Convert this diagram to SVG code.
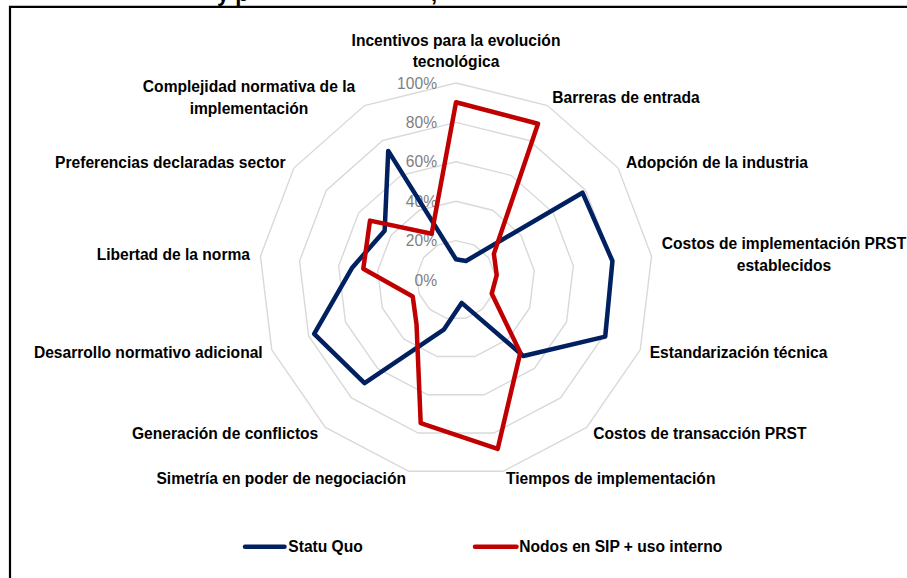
<svg xmlns="http://www.w3.org/2000/svg" width="907" height="578" viewBox="0 0 907 578">
  <style>
    .bg { fill: #ffffff; }
    .frame { fill: none; stroke: #000000; stroke-width: 2.2; }
    .grid { fill: none; stroke: #d9d9d9; stroke-width: 1.4; }
    .tick { font-family: "Liberation Sans", Arial, sans-serif; font-size: 15.6px; fill: #808080; text-anchor: end; }
    .lbl { font-family: "Liberation Sans", Arial, sans-serif; font-size: 15.6px; font-weight: bold; fill: #000000; }
    .title { font-family: "Liberation Sans", Arial, sans-serif; font-size: 22px; font-weight: bold; fill: #000000; }
    .mid { text-anchor: middle; }
    .end { text-anchor: end; }
    .series { fill: none; stroke-width: 4.5; stroke-linejoin: round; stroke-linecap: round; }
    .blue { stroke: #002060; }
    .red { stroke: #c00000; }
  </style>
  <rect class="bg" x="0" y="0" width="907" height="578"/>
  <text class="title" x="217" y="1">y p</text>
  <text class="title" x="431" y="1">,</text>
  <path class="frame" d="M10,578 V6.8 H907"/>

  <g id="grid" transform="translate(456,280)">
    <polygon class="grid" points="0,-197 91.55,-174.44 162.13,-111.91 195.56,-23.75 184.20,69.86 130.63,147.46 47.15,191.28 -47.15,191.28 -130.63,147.46 -184.20,69.86 -195.56,-23.75 -162.13,-111.91 -91.55,-174.44"/>
    <polygon class="grid" points="0,-157.6 73.24,-139.55 129.70,-89.53 156.45,-19.0 147.36,55.89 104.50,117.97 37.72,153.02 -37.72,153.02 -104.50,117.97 -147.36,55.89 -156.45,-19.0 -129.70,-89.53 -73.24,-139.55"/>
    <polygon class="grid" points="0,-118.2 54.93,-104.66 97.28,-67.15 117.34,-14.25 110.52,41.92 78.38,88.48 28.29,114.77 -28.29,114.77 -78.38,88.48 -110.52,41.92 -117.34,-14.25 -97.28,-67.15 -54.93,-104.66"/>
    <polygon class="grid" points="0,-78.8 36.62,-69.78 64.85,-44.76 78.22,-9.5 73.68,27.94 52.25,58.98 18.86,76.51 -18.86,76.51 -52.25,58.98 -73.68,27.94 -78.22,-9.5 -64.85,-44.76 -36.62,-69.78"/>
    <polygon class="grid" points="0,-39.4 18.31,-34.89 32.43,-22.38 39.11,-4.75 36.84,13.97 26.13,29.49 9.43,38.26 -9.43,38.26 -26.13,29.49 -36.84,13.97 -39.11,-4.75 -32.43,-22.38 -18.31,-34.89"/>
  </g>

  <g id="ticks">
    <text class="tick" x="437" y="88.6">100%</text>
    <text class="tick" x="437" y="128">80%</text>
    <text class="tick" x="437" y="167.4">60%</text>
    <text class="tick" x="437" y="206.8">40%</text>
    <text class="tick" x="437" y="246.2">20%</text>
    <text class="tick" x="437" y="285.6">0%</text>
  </g>

  <g id="connectors" transform="translate(456,280)">
    <polygon id="statu-quo" class="series blue" points="0,-20.7 9.99,-19.04 126.49,-87.31 156.45,-19.0 149.23,56.59 67.31,75.97 5.65,22.91 -12.25,49.71 -91.44,103.22 -141.84,53.79 -103.64,-12.58 -71.35,-49.25 -67.76,-129.10"/>
    <polygon id="nodos-sip" class="series red" points="0,-177.7 82.02,-156.28 37.86,-26.13 40.70,-4.94 35.72,13.55 64.32,72.61 41.64,168.94 -35.30,143.21 -39.46,44.54 -43.29,16.42 -92.72,-11.26 -86.00,-59.36 -24.30,-46.31"/>
  </g>

  <g id="axis-incentivos"><text class="lbl mid" x="456" y="45.5">Incentivos para la evolución</text><text class="lbl mid" x="456" y="67">tecnológica</text></g>
  <g id="axis-barreras"><text class="lbl" x="552.3" y="103">Barreras de entrada</text></g>
  <g id="axis-adopcion"><text class="lbl" x="626" y="168">Adopción de la industria</text></g>
  <g id="axis-costos-impl"><text class="lbl mid" x="784" y="249">Costos de implementación PRST</text><text class="lbl mid" x="784" y="270.5">establecidos</text></g>
  <g id="axis-estandarizacion"><text class="lbl" x="649.7" y="358">Estandarización técnica</text></g>
  <g id="axis-costos-trans"><text class="lbl" x="593.3" y="439">Costos de transacción PRST</text></g>
  <g id="axis-tiempos"><text class="lbl" x="506" y="484">Tiempos de implementación</text></g>
  <g id="axis-simetria"><text class="lbl end" x="406" y="484">Simetría en poder de negociación</text></g>
  <g id="axis-generacion"><text class="lbl end" x="318.3" y="439">Generación de conflictos</text></g>
  <g id="axis-desarrollo"><text class="lbl end" x="262.7" y="358">Desarrollo normativo adicional</text></g>
  <g id="axis-libertad"><text class="lbl end" x="250" y="260">Libertad de la norma</text></g>
  <g id="axis-preferencias"><text class="lbl end" x="285.7" y="168">Preferencias declaradas sector</text></g>
  <g id="axis-complejidad"><text class="lbl mid" x="249" y="92">Complejidad normativa de la</text><text class="lbl mid" x="249" y="113.5">implementación</text></g>

  <g id="legend">
    <line class="series blue" x1="245" y1="546.7" x2="284.5" y2="546.7" stroke-linecap="butt"/>
    <text class="lbl" x="288.3" y="552.3">Statu Quo</text>
    <line class="series red" x1="475" y1="546.7" x2="516.5" y2="546.7" stroke-linecap="butt"/>
    <text class="lbl" x="519.3" y="552.3">Nodos en SIP + uso interno</text>
  </g>
</svg>
